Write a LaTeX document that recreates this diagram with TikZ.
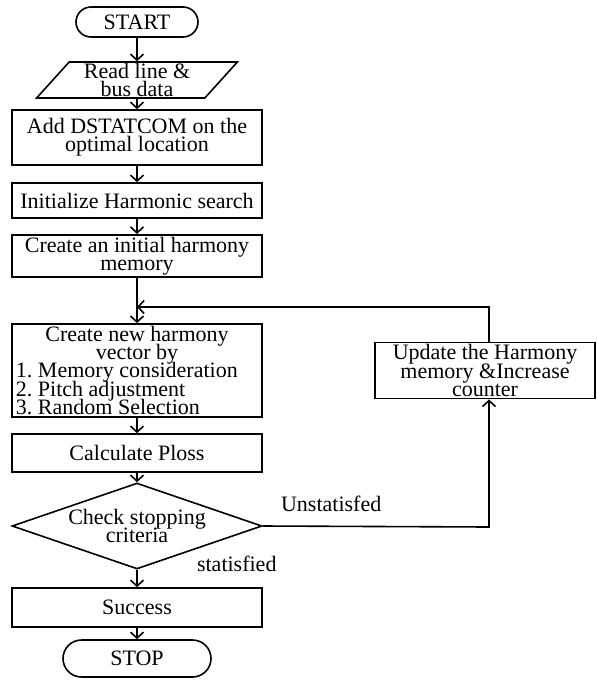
\documentclass[tikz,border=0pt]{standalone}
\usepackage{fontspec}
\setmainfont{Liberation Serif}
\usetikzlibrary{shapes.geometric,shapes.misc,arrows.meta}

\newcommand\flowfont{\fontsize{11}{9.2}\selectfont\frenchspacing\lineskiplimit=-5pt\relax}
\tikzset{
  flowtext/.style={font=\flowfont},
  flowbox/.style={flowtext, draw, line width=0.8pt, minimum width=125pt, inner xsep=1pt, inner ysep=1pt, align=center},
  terminal/.style={flowtext, draw, line width=0.8pt, rounded rectangle, inner sep=1pt},
  flowline/.style={line width=0.8pt, -{Straight Barb[length=3pt,width=6.5pt]}},
}

\begin{document}
\begin{tikzpicture}[x=0.5pt,y=0.5pt,yscale=-1]
%set diagram left start at 0, and has height of 686
\useasboundingbox (0,0) rectangle (596,686);

%Shape: Terminal
\node [terminal, minimum width=63pt, minimum height=15pt] (start) at (137,22) {START};
%Shape: Parallelogram
\node [flowtext, draw, line width=0.8pt, trapezium, trapezium left angle=53, trapezium right angle=127,
       trapezium stretches=true, minimum width=100.5pt, minimum height=18pt, inner sep=0pt, align=center] (read) at (137,80) {Read line \&\\bus data};
%Shape: Rectangle
\node [flowbox, minimum height=27.5pt] (add) at (137,137.5) {Add DSTATCOM on the\\optimal location};
\node [flowbox, minimum height=17.5pt] (init) at (137,200.5) {Initialize Harmonic search};
\node [flowbox, minimum height=17pt] (create) at (137,256) {Create an initial harmony\\memory};
\node [flowbox, minimum height=44.5pt, inner xsep=1.5pt, align=left] (newvec) at (137,370.5)
  {\makebox[121pt]{Create new harmony}\\\makebox[121pt]{vector by}\\1. Memory consideration\\2. Pitch adjustment\\3. Random Selection};
\node [flowbox, minimum height=19pt] (ploss) at (137,453) {Calculate Ploss};
%Shape: Diamond
\node [flowtext, draw, line width=0.8pt, diamond, aspect=2.9, minimum width=125pt, minimum height=43pt,
       inner sep=0pt, align=center] (check) at (137,526) {Check stopping\\criteria};
\node [flowbox, minimum height=19.5pt] (success) at (137,607.5) {Success};
%Shape: Terminal
\node [terminal, minimum width=76pt, minimum height=18.5pt] (stop) at (137,658.5) {STOP};
%Shape: Rectangle (feedback)
\node [flowbox, minimum width=110pt, minimum height=27.5pt] (update) at (485,370.5) {Update the Harmony\\memory \&Increase\\counter};

%Labels
\node [flowtext, anchor=west] (nolbl) at (274,504) {Unstatisfed};
\node [flowtext, anchor=west] (yeslbl) at (190,564) {statisfied};

\coordinate (loopin) at (137,307);
\coordinate (turn) at (489,527);

%Straight Lines
\draw [flowline] (start) -- (read);
\draw [flowline] (read) -- (add);
\draw [flowline] (add) -- (init);
\draw [flowline] (init) -- (create);
\draw [flowline] (create) -- (newvec);
\draw [flowline] (newvec) -- (ploss);
\draw [flowline] (ploss) -- (check);
\draw [flowline] (check) -- (success);
\draw [flowline] (success) -- (stop);
\draw [flowline] (check.east) -- (turn) -- (turn |- update.south);
\draw [flowline] (update.north -| turn) |- (loopin);

\end{tikzpicture}
\end{document}
